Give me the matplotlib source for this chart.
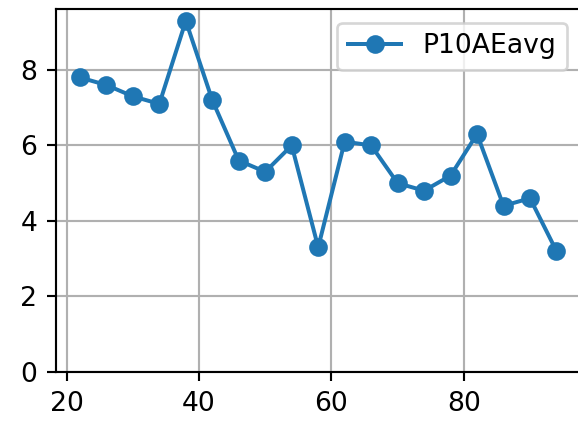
import matplotlib
matplotlib.use("Agg")
import matplotlib.pyplot as plt

ages = [22, 26, 30, 34, 38, 42, 46, 50, 54, 58, 62, 66, 70, 74, 78, 82, 86, 90, 94]
p10ae_avg = [7.8, 7.6, 7.3, 7.1, 9.3, 7.2, 5.6, 5.3, 6.0, 3.3,
             6.1, 6.0, 5.0, 4.8, 5.2, 6.3, 4.4, 4.6, 3.2]

fig = plt.figure(figsize=(578 / 192, 425 / 192), dpi=192)
# plot was cropped on the right, so the axes run just past the edge
ax = fig.add_axes([0.097, 0.125, 0.907, 0.853])

ax.plot(ages, p10ae_avg, marker='o', label='P10AEavg')
ax.set_ylim(bottom=0)
ax.grid(True)
ax.legend(loc='upper right')
ax.spines['right'].set_visible(False)

fig.savefig("out.png", dpi=192)
